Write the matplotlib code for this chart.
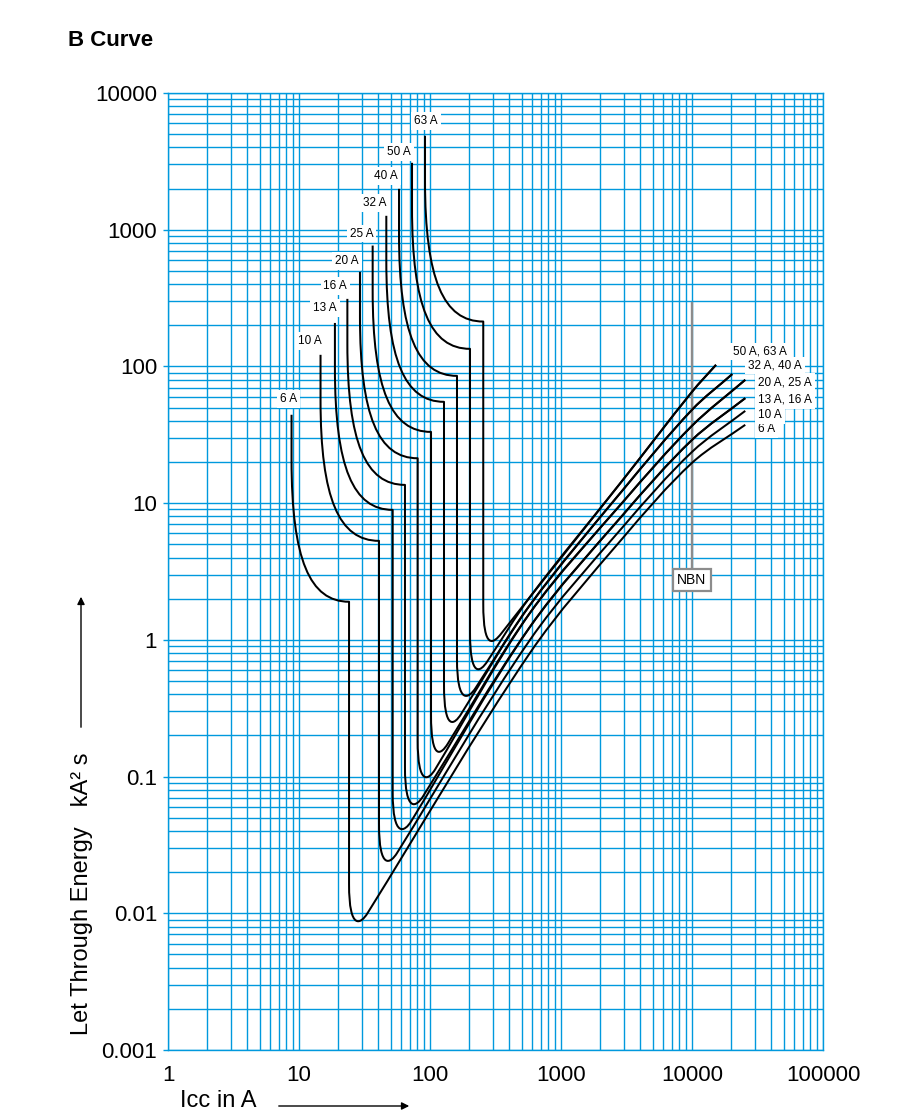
import numpy as np
import matplotlib
matplotlib.use("Agg")
import matplotlib.pyplot as plt
from matplotlib import ticker
from matplotlib.path import Path
from matplotlib.patches import PathPatch, FancyArrowPatch

plt.rcParams['font.family'] = ['Liberation Sans', 'DejaVu Sans']

# ---------------- data ----------------
ratings = ['6 A', '10 A', '13 A', '16 A', '20 A', '25 A', '32 A', '40 A', '50 A', '63 A']
# magnetic trip: vertical start of each curve (A, kA²s)
trip_current = [8.77, 14.6, 18.8, 23.4, 29.2, 36.5, 46.4, 58.0, 72.9, 91.6]
top_energy = [44.3, 121.6, 208, 312, 492, 766, 1264, 1991, 3085, 4863]
# end of the knee (shelf) before the vertical drop
shelf_current = [24.1, 40.8, 51.9, 64.4, 80.5, 101.8, 127.9, 160.7, 202, 255]
shelf_energy = [1.90, 5.30, 8.93, 13.6, 21.3, 33.2, 55.1, 85.3, 134.5, 213]
# minimum of each curve
min_current = [30.3, 51.0, 65.6, 80.5, 100, 124.1, 157, 202, 248, 313]
min_energy = [0.00865, 0.0239, 0.0408, 0.0621, 0.0978, 0.150, 0.248, 0.385, 0.603, 0.971]

# rising branches, shared by pairs of ratings
group_labels = ['6 A', '10 A', '13 A, 16 A', '20 A, 25 A', '32 A, 40 A', '50 A, 63 A']
rating_group = [0, 1, 2, 2, 3, 3, 4, 4, 5, 5]
group_current = [
    [580, 2970, 10000, 25500],
    [580, 2970, 10000, 25500],
    [580, 2970, 10000, 25500],
    [580, 2970, 10000, 25500],
    [580, 2970, 10000, 20300],
    [580, 2970, 10000, 15250],
]
group_energy = [
    [0.803, 5.57, 19.7, 37.4],
    [1.0, 6.71, 23.7, 47.3],
    [1.245, 8.21, 29.0, 58.6],
    [1.576, 10.2, 36.8, 79.8],
    [1.80, 12.5, 48.2, 87.9],
    [2.06, 14.8, 65.2, 102.7],
]

nbn_current = 10000
nbn_top = 292
nbn_box = 2.75

x_ticks = [1, 10, 100, 1000, 10000, 100000]
y_ticks = [0.001, 0.01, 0.1, 1, 10, 100, 1000, 10000]

# ---------------- style / layout ----------------
GRID = '#0099dd'
W_PX, H_PX = 900, 1119
label_offsets = [(-3, 16), (-11, 14), (-10, 15), (-12, 13), (-13, 11),
                 (-11, 12), (-12, 13), (-13, 13), (-13, 11), (1, 15)]
group_label_offsets = [(12.4, -4), (13, -4), (13, -1.7), (13, -2.3), (16, 8.6), (16.7, 13.3)]

fig = plt.figure(figsize=(W_PX / 100, H_PX / 100), dpi=100)
ax = fig.add_axes([168 / W_PX, 69 / H_PX, 655 / W_PX, 957 / H_PX])
ax.set_xscale('log')
ax.set_yscale('log')
ax.set_xlim(x_ticks[0], x_ticks[-1])
ax.set_ylim(y_ticks[0], y_ticks[-1])

for axis in (ax.xaxis, ax.yaxis):
    axis.set_minor_locator(ticker.LogLocator(base=10, subs=np.arange(2, 10), numticks=200))
    axis.set_minor_formatter(ticker.NullFormatter())
ax.set_xticks(x_ticks)
ax.set_yticks(y_ticks)
fmt = ticker.FuncFormatter(lambda v, p: f'{v:g}')
ax.xaxis.set_major_formatter(fmt)
ax.yaxis.set_major_formatter(fmt)

ax.grid(which='both', color=GRID, lw=1.0)
ax.set_axisbelow(True)
for s in ax.spines.values():
    s.set_color(GRID)
    s.set_linewidth(1.0)
ax.tick_params(which='minor', length=0)
ax.tick_params(axis='x', which='major', length=0, pad=11, labelsize=16)
ax.tick_params(axis='y', which='major', length=3.6, width=1, color=GRID, pad=4.3, labelsize=16)


def D(x, y):
    return ax.transData.transform((x, y))


def unit(v):
    return v / np.hypot(v[0], v[1])


for i, name in enumerate(ratings):
    top = D(trip_current[i], top_energy[i])
    shelf = D(shelf_current[i], shelf_energy[i])
    m = D(min_current[i], min_energy[i])
    g = rating_group[i]
    diag = [D(cx, ey) for cx, ey in zip(group_current[g], group_energy[g])]
    H = top[1] - shelf[1]
    Wd = shelf[0] - top[0]
    verts = [top, (top[0], top[1] - 0.24 * H)]
    codes = [Path.MOVETO, Path.LINETO]
    # knee towards the shelf
    verts += [(top[0], top[1] - 0.775 * H), (top[0] + 0.32 * Wd, shelf[1]), shelf]
    codes += [Path.CURVE4] * 3
    # vertical drop
    verts += [(shelf[0], m[1] + 38)]
    codes += [Path.LINETO]
    # rounded bottom around the minimum, tangent to the rising branch
    u = unit(diag[0] - m)
    r = m + 10 * u
    verts += [(shelf[0], m[1] - 10), m - 2 * u, r]
    codes += [Path.CURVE4] * 3
    pts = [r] + diag
    dirs = [u] + [unit(pts[k + 1] - pts[k - 1]) for k in range(1, len(pts) - 1)] + [unit(pts[-1] - pts[-2])]
    for k in range(len(pts) - 1):
        L = np.hypot(*(pts[k + 1] - pts[k]))
        verts += [pts[k] + dirs[k] * L / 3, pts[k + 1] - dirs[k + 1] * L / 3, pts[k + 1]]
        codes += [Path.CURVE4] * 3
    dv = ax.transData.inverted().transform(np.array(verts, dtype=float))
    ax.add_patch(PathPatch(Path(dv, codes), fill=False, ec='black', lw=1.45,
                           joinstyle='round', capstyle='butt', zorder=4))
    ax.annotate(name, (trip_current[i], top_energy[i]), xytext=label_offsets[i],
                textcoords='offset pixels', ha='center', va='center', fontsize=8.5,
                bbox=dict(boxstyle='square,pad=0.25', fc='white', ec='none'), zorder=5)

for g, lab in enumerate(group_labels):
    ax.annotate(lab, (group_current[g][-1], group_energy[g][-1]), xytext=group_label_offsets[g],
                textcoords='offset pixels', ha='left', va='center', fontsize=8.5,
                bbox=dict(boxstyle='square,pad=0.25', fc='white', ec='none'), zorder=5)

# NBN marker
ax.plot([nbn_current, nbn_current], [nbn_top, nbn_box], color='#8c8c8c', lw=1.7, zorder=3)
ax.text(nbn_current, nbn_box, 'NBN', ha='center', va='center', fontsize=10, zorder=6,
        bbox=dict(boxstyle='square,pad=0.3', fc='white', ec='#8c8c8c', lw=1.6))

# titles and axis labels
fig.text(68 / W_PX, 1 - 40 / H_PX, 'B Curve', fontsize=16, fontweight='bold', ha='left', va='center')
fig.text(82 / W_PX, 1 - 894 / H_PX, 'Let Through Energy   kA² s', fontsize=17,
         rotation=90, ha='center', va='center')
fig.text(218 / W_PX, 1 - 1101 / H_PX, 'Icc in A', fontsize=17, ha='center', va='center')
fig.add_artist(FancyArrowPatch((81 / W_PX, 1 - 730 / H_PX), (81 / W_PX, 1 - 594 / H_PX),
                               transform=fig.transFigure, arrowstyle='-|>', mutation_scale=11,
                               lw=1, color='black'))
fig.add_artist(FancyArrowPatch((276 / W_PX, 1 - 1106 / H_PX), (412 / W_PX, 1 - 1106 / H_PX),
                               transform=fig.transFigure, arrowstyle='-|>', mutation_scale=11,
                               lw=1, color='black'))

fig.savefig('out.png', dpi=100)
